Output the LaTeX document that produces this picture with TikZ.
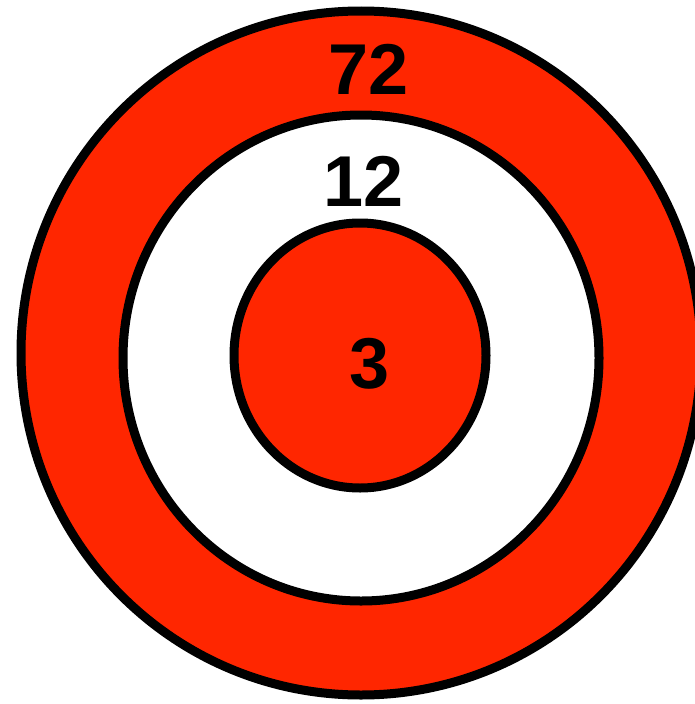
\documentclass[tikz,border=0pt]{standalone}
\usepackage{fontspec}
\setmainfont{Liberation Sans}
\definecolor{tred}{RGB}{255,38,0}
\begin{document}
\begin{tikzpicture}[x=1pt,y=-1pt,
  ring/.style={draw=black,line width=9pt},
  num/.style={inner sep=0pt,font=\fontsize{72}{72}\selectfont\bfseries}]
\useasboundingbox (0,0) rectangle (694,704);
\fill[white] (0,0) rectangle (694,704);
\draw[ring,fill=tred] (361,353) ellipse [x radius=340,y radius=342];
\draw[ring,fill=white] (361,358) ellipse [x radius=238,y radius=243];
\draw[ring,fill=tred] (360,355.5) ellipse [x radius=126,y radius=132.5];
\node[num] (n72) at (368.5,69) {72};
\node[num] (n12) at (363.5,181) {12};
\node[num] (n3) at (370,363.5) {3};
\end{tikzpicture}
\end{document}
